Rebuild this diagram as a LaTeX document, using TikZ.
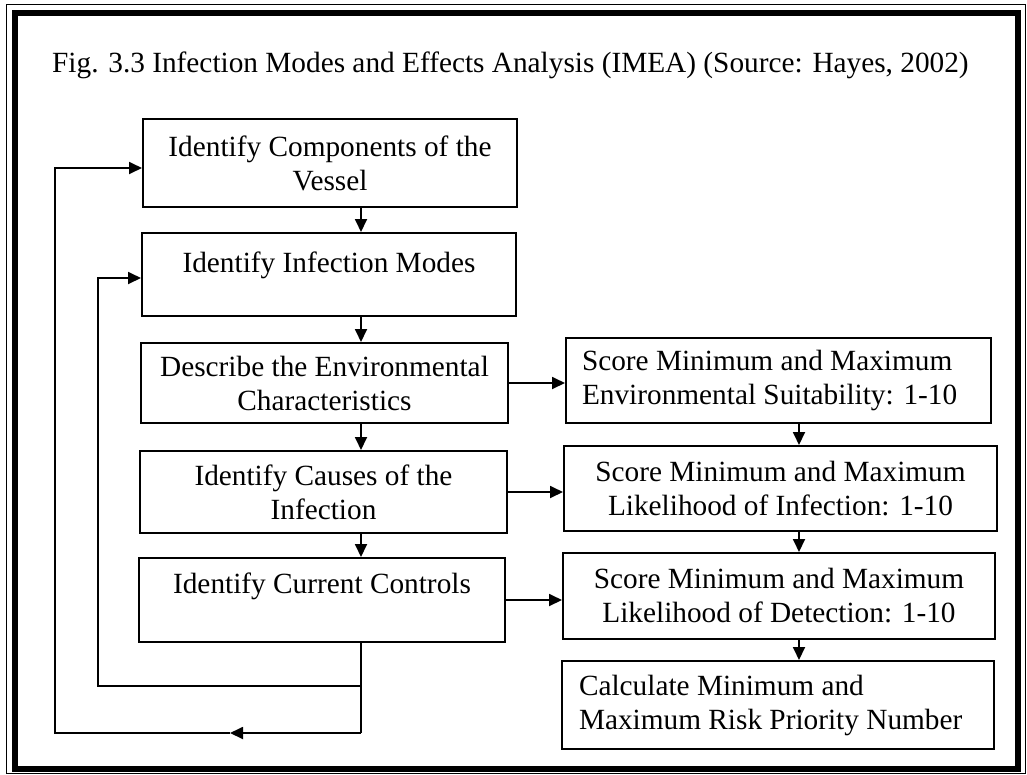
\documentclass[tikz,border=0pt]{standalone}
\usepackage{fontspec}
\setmainfont{Liberation Serif}
\usetikzlibrary{arrows.meta}
\begin{document}
\begin{tikzpicture}[x=1pt,y=-1pt,
  txt/.style={font=\fontsize{29.3}{34}\selectfont},
  stage/.style={txt, draw, line width=2pt, inner xsep=0pt, inner ysep=0pt, align=center},
  conn/.style={line width=1.8pt, line join=miter},
  arr/.style={conn, -{Triangle[length=13pt,width=12pt]}}]
\useasboundingbox (0,0) rectangle (1027,774);

% frame: thin outer rule and heavy inner rule
\draw[line width=1pt] (6,4) rectangle (1025,773);
\draw[line width=6pt] (14.5,12.5) rectangle (1018,768.5);

% caption
\node[txt, anchor=base west, inner sep=0pt] (title) at (52,72)
  {Fig. 3.3 Infection Modes and Effects Analysis (IMEA) (Source: Hayes, 2002)};

% left column
\node[stage, minimum width=374pt, minimum height=88pt] (comp) at (330,163)
  {Identify Components of the\\Vessel};
\node[stage, minimum width=374pt, minimum height=83pt] (modes) at (329,274.5)
  {Identify Infection Modes\\[-10pt]\mbox{}};
\node[stage, minimum width=367pt, minimum height=80pt] (env) at (324.5,383)
  {Describe the Environmental\\Characteristics};
\node[stage, minimum width=367pt, minimum height=82pt] (cause) at (323.5,492)
  {Identify Causes of the\\Infection};
\node[stage, minimum width=366pt, minimum height=84pt] (ctrl) at (322,600)
  {Identify Current Controls\\\mbox{}};

% right column
\node[stage, align=flush left, text width=393pt, inner xsep=16pt, minimum height=85pt] (suit) at (778.5,380.5)
  {Score Minimum and Maximum\\Environmental Suitability: 1-10};
\node[stage, minimum width=433pt, minimum height=85pt] (like) at (780.5,488.5)
  {Score Minimum and Maximum\\Likelihood of Infection: 1-10};
\node[stage, minimum width=432pt, minimum height=86pt] (detect) at (779,596)
  {Score Minimum and Maximum\\Likelihood of Detection: 1-10};
\node[stage, align=flush left, text width=398pt, inner xsep=17pt, minimum height=88pt] (rpn) at (778,705)
  {Calculate Minimum and\\Maximum Risk Priority Number};

% guide coordinates for the connectors
\coordinate (colL) at (361,0);
\coordinate (colR) at (799,0);
\coordinate (innerTurn) at (361,686);
\coordinate (outerTurn) at (361,733);
\coordinate (innerX) at (98,0);
\coordinate (outerX) at (55,0);
\coordinate (midArrow) at (230,733);

% downward steps
\draw[arr] (comp.south -| colL) -- (modes.north -| colL);
\draw[arr] (modes.south -| colL) -- (env.north -| colL);
\draw[arr] (env.south -| colL) -- (cause.north -| colL);
\draw[arr] (cause.south -| colL) -- (ctrl.north -| colL);
\draw[arr] (suit.south -| colR) -- (like.north -| colR);
\draw[arr] (like.south -| colR) -- (detect.north -| colR);
\draw[arr] (detect.south -| colR) -- (rpn.north -| colR);

% scoring links
\draw[arr] (env.east) -- (env.east -| suit.west);
\draw[arr] (cause.east) -- (cause.east -| like.west);
\draw[arr] (ctrl.east) -- (ctrl.east -| detect.west);

% feedback loops
\draw[conn] (ctrl.south -| colL) -- (outerTurn);
\draw[arr] (innerTurn) -- (innerTurn -| innerX) |- ([yshift=-3.5pt]modes.west);
\draw[arr] (outerTurn) -- (midArrow);
\draw[arr] (midArrow) -- (midArrow -| outerX) |- ([yshift=-5pt]comp.west);
\end{tikzpicture}
\end{document}
